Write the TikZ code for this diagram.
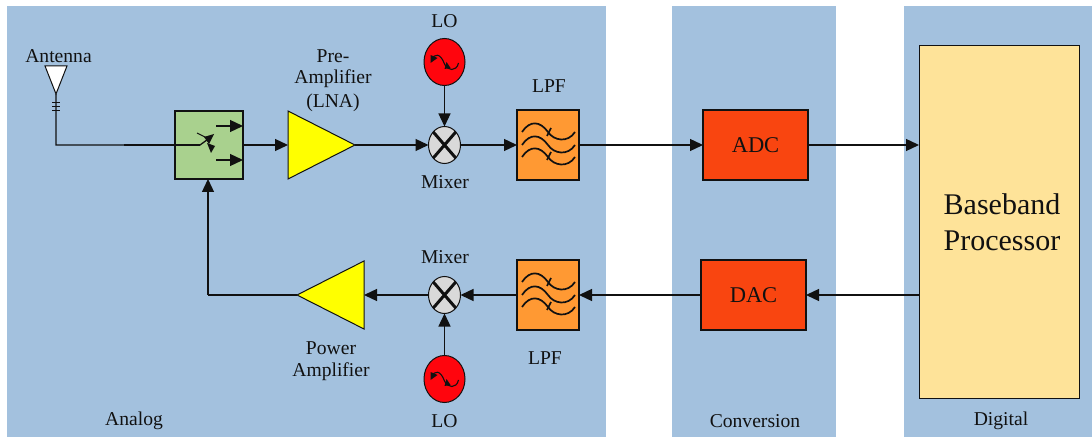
\documentclass[tikz,border=0pt]{standalone}
\usepackage{fontspec}
\setmainfont{Liberation Serif}
\usetikzlibrary{arrows.meta,shapes.geometric}
\definecolor{panelc}{HTML}{A3C1DE}
\definecolor{greenc}{HTML}{A9D18E}
\definecolor{orangec}{HTML}{FF9933}
\definecolor{convc}{HTML}{F94510}
\definecolor{basec}{HTML}{FEE399}
\definecolor{linec}{HTML}{111111}
\definecolor{yellowc}{rgb}{1,1,0}
\definecolor{redc}{rgb}{1,0.02,0.05}
\definecolor{mixc}{HTML}{D9D9D9}
\tikzset{
  panel/.style={draw=none,fill=panelc,rectangle,inner sep=0pt,outer sep=0pt},
  boxc/.style={draw=linec,line width=1.4pt,rectangle,inner sep=0pt,outer sep=0pt},
  lbl/.style={font=\fontsize{19.6}{22}\selectfont,text=linec,inner sep=0pt,align=center},
  big/.style={font=\fontsize{22.5}{26}\selectfont,text=linec},
  lo/.style={draw=linec,line width=1pt,ellipse,fill=redc,minimum width=41pt,minimum height=47pt,inner sep=0pt,outer sep=0pt},
  mix/.style={draw=linec,line width=1pt,ellipse,fill=mixc,minimum width=32pt,minimum height=37pt,inner sep=0pt,outer sep=0pt},
  amp/.style={draw=linec,line width=1pt,fill=yellowc,isosceles triangle,isosceles triangle stretches,minimum width=68pt,minimum height=67pt,inner sep=0pt,outer sep=0pt},
  conn/.style={draw=linec,line width=1.3pt,-{Triangle[length=13pt,width=12pt]}},
  plain/.style={draw=linec,line width=1.3pt},
  wave/.style={draw=linec,line width=1.7pt}
}
\newcommand{\lpfglyph}[1]{%
  \begin{scope}[shift={(#1)}]
    \foreach \dy in {-13,0,12}{
      \draw[wave] (-26,\dy) .. controls (-18,\dy-12) and (-8,\dy-11) .. (0,\dy) .. controls (6,\dy+9) and (20,\dy+11) .. (27,\dy);
    }
    \draw[wave] (3,-17) -- (-1,-9);
    \draw[wave] (3,7) -- (-1,15);
  \end{scope}}
\newcommand{\loglyph}[1]{%
  \begin{scope}[shift={(#1)}]
    \draw[draw=linec,line width=1.1pt] (-13,-2) .. controls (-10,-9) and (-4,-9) .. (0,2) .. controls (3,9) and (12,10) .. (14,1);
    \fill[linec] (-14,-7) -- (-7,-4) -- (-14,1) -- cycle;
    \fill[linec] (2,0) -- (6,6) -- (0,7) -- cycle;
  \end{scope}}
\newcommand{\mixglyph}[1]{%
  \draw[draw=linec,line width=3pt] (#1.north west) -- (#1.south east) (#1.north east) -- (#1.south west);}
\begin{document}
\begin{tikzpicture}[x=1pt,y=-1pt]
\useasboundingbox (0,0) rectangle (1092,438);
\fill[white] (0,0) rectangle (1092,438);
% panels
\node[panel,minimum width=599pt,minimum height=431pt,anchor=north west] (analog) at (7,6) {};
\node[panel,minimum width=164pt,minimum height=431pt,anchor=north west] (conv) at (672,6) {};
\node[panel,minimum width=188pt,minimum height=431pt,anchor=north west] (dig) at (904,6) {};
% blocks
\node[boxc,fill=greenc,minimum size=68pt,anchor=north west] (sw) at (175,111) {};
\node[amp,anchor=lower side] (lna) at (288,145) {};
\node[mix] (mixa) at (444.5,145) {};
\node[lo] (loa) at (444.5,62) {};
\node[boxc,fill=orangec,minimum width=62pt,minimum height=70pt] (lpfa) at (548,145) {};
\node[boxc,fill=convc,minimum width=105pt,minimum height=70pt,big] (adc) at (755.5,145) {ADC};
\node[boxc,line width=1pt,fill=basec,minimum width=160pt,minimum height=352pt,anchor=north west,font=\fontsize{30}{36}\selectfont,text=linec,align=center] (bb) at (919,46) {\kern6pt Baseband\\\kern6pt Processor};
\node[boxc,fill=convc,minimum width=105pt,minimum height=70pt,big] (dac) at (753.5,295) {DAC};
\node[boxc,fill=orangec,minimum width=62pt,minimum height=70pt] (lpfb) at (548,295) {};
\node[mix] (mixb) at (444.5,295) {};
\node[lo] (lob) at (444.5,379) {};
\node[amp,shape border rotate=180,anchor=lower side] (pa) at (364,295) {};
% antenna
\node[draw=linec,line width=1pt,fill=white,isosceles triangle,isosceles triangle stretches,shape border rotate=-90,minimum width=22pt,minimum height=28pt,inner sep=0pt,outer sep=0pt,anchor=lower side] (ant) at (56,66) {};
\coordinate (antc) at (56,145);
\coordinate (swin) at (200,145);
\coordinate (swj) at (124,145);
\coordinate (swt) at (211,137);
\coordinate (pac) at (208,295);
\coordinate (swa) at (216,126);
\coordinate (swb) at (216,160);
% connectors
\draw[plain] (ant.apex) -- (antc) -- (swin) -- (swt);
\draw[plain] (swj) -- (swin);
\foreach \yy in {103,107,111}{\draw[draw=linec,line width=1pt] (52,\yy) -- (60,\yy);}
\draw[conn] (sw.east) -- (lna.lower side);
\draw[conn] (lna.apex) -- (mixa.west);
\draw[conn] (loa.south) -- (mixa.north);
\draw[conn] (mixa.east) -- (lpfa.west);
\draw[conn] (lpfa.east) -- (adc.west);
\draw[conn] (adc.east) -- (bb.west |- adc.east);
\draw[conn] (bb.west |- dac.east) -- (dac.east);
\draw[conn] (dac.west) -- (lpfb.east);
\draw[conn] (lpfb.west) -- (mixb.east);
\draw[conn] (mixb.west) -- (pa.lower side);
\draw[conn] (lob.north) -- (mixb.south);
\draw[plain] (pa.apex) -- (pac);
\draw[conn] (pac) -- (sw.south -| pac);
% switch details
\draw[conn] (swa) -- (sw.east |- swa);
\draw[conn] (swb) -- (sw.east |- swb);
\draw[draw=linec,line width=1pt] (197,133) -- (207,138);
\fill[linec] (214,134) -- (204,137) -- (209,144) -- cycle;
\fill[linec] (207,143) -- (215,146) -- (211,153) -- cycle;
% glyphs
\lpfglyph{548,145}
\lpfglyph{548,295}
\loglyph{444.5,62}
\loglyph{444.5,379}
\mixglyph{mixa}
\mixglyph{mixb}
% labels
\node[lbl] (l1) at (58.5,56) {Antenna};
\node[lbl] (l2) at (444.5,21) {LO};
\node[lbl] (l3) at (333,56) {Pre-};
\node[lbl] (l4) at (333,79) {Amplifier};
\node[lbl] (l5) at (333,103) {(LNA)};
\node[lbl] (l6) at (549,86) {LPF};
\node[lbl] (l7) at (445,182) {Mixer};
\node[lbl] (l8) at (445,257) {Mixer};
\node[lbl] (l9) at (545,358) {LPF};
\node[lbl] (l10) at (331,348) {Power};
\node[lbl] (l11) at (331,372) {Amplifier};
\node[lbl] (l12) at (444.5,421) {LO};
\node[lbl] (l13) at (134,421) {Analog};
\node[lbl] (l14) at (755,421) {Conversion};
\node[lbl] (l15) at (1001,421) {Digital};
\end{tikzpicture}
\end{document}
